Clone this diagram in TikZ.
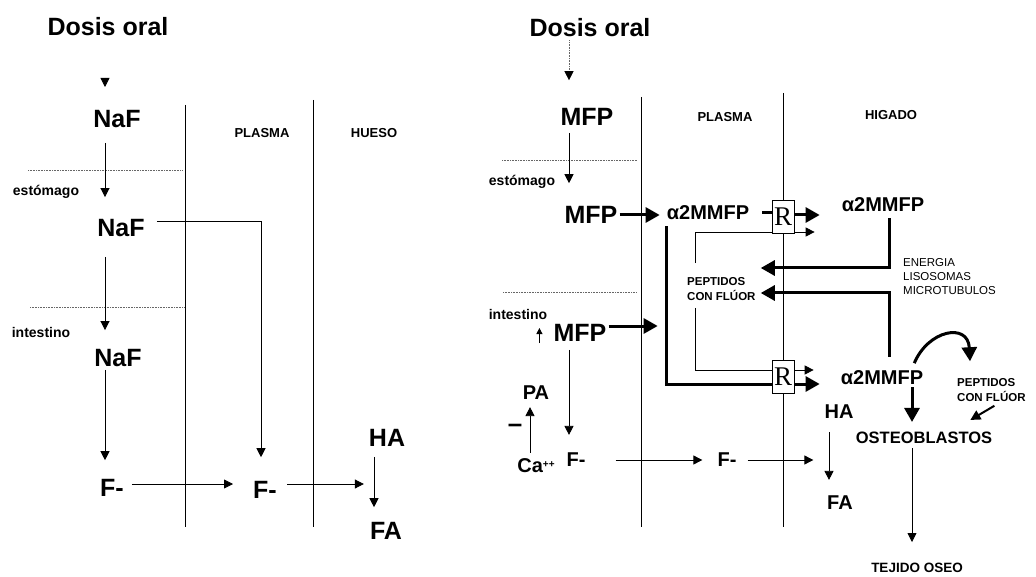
\documentclass[tikz,border=0pt]{standalone}
\usepackage{fontspec}
\setmainfont{Liberation Sans}
\newfontfamily\serifR{Liberation Serif}
\usetikzlibrary{arrows.meta, calc}

\begin{document}
\begin{tikzpicture}[x=1pt, y=-1pt,
            compound/.style={inner sep=2pt, font=\fontsize{25}{28}\selectfont\bfseries},
            medium/.style={inner sep=2pt, font=\fontsize{20}{22}\selectfont\bfseries},
            region/.style={inner sep=2pt, font=\fontsize{13}{15}\selectfont\bfseries},
            site/.style={inner sep=2pt, font=\fontsize{14}{16}\selectfont\bfseries},
            note/.style={inner sep=2pt, align=left, font=\fontsize{11.5}{15}\selectfont\bfseries},
            organ/.style={inner sep=2pt, align=left, font=\fontsize{11.5}{14}\selectfont},
            tissue/.style={inner sep=2pt, font=\fontsize{16.5}{18}\selectfont\bfseries},
            receptor/.style={draw, fill=white, inner sep=0pt, minimum width=22pt, minimum height=33pt, line width=0.8pt, font=\serifR\fontsize{27}{27}\selectfont},
            arrow/.style={-{Triangle[length=9pt, width=9pt]}, line width=0.8pt},
            heavy/.style={-{Triangle[length=14pt, width=15pt]}, line width=3pt},
            divider/.style={line width=0.8pt},
            border/.style={densely dotted, line width=0.6pt, black!60}
        ]
            \useasboundingbox (0,0) rectangle (1036,577);
            \draw[divider] (185,105) -- (185,527);
            \draw[divider] (313,100) -- (313,527);
            \draw[border] (28,170) -- (183,170);
            \draw[border] (30,307) -- (185,307);
            \draw[divider] (641,97) -- (641,527);
            \draw[divider] (783,93) -- (783,527);
            \draw[border] (502,160) -- (637,160);
            \draw[border] (503,292) -- (637,292);

            \coordinate (colL) at (105,0);
            \coordinate (colH) at (374,0);
            \coordinate (colR) at (569,0);
            \coordinate (colP) at (695,0);
            \coordinate (colO) at (912,0);
            \coordinate (colF) at (829,0);
            \coordinate (colC) at (530,0);
            \coordinate (tipL) at (105,87);

            \node[compound] (doseL) at (108,27) {Dosis oral};
            \node[compound] (naf1) at (117,119) {NaF};
            \node[region] (plasmaL) at (262,133) {PLASMA};
            \node[region] (huesoL) at (374,133) {HUESO};
            \node[site] (estL) at (46,192) {estómago};
            \node[compound] (naf2) at (121,228) {NaF};
            \node[site] (intL) at (41,332) {intestino};
            \node[compound] (naf3) at (118,358) {NaF};
            \node[compound] (fL1) at (112,488) {F-};
            \node[compound] (fL2) at (265,490) {F-};
            \node[compound] (haL) at (387,438) {HA};
            \node[compound] (faL) at (386,531) {FA};

            \node[compound] (doseR) at (590,28) {Dosis oral};
            \node[compound] (mfp1) at (587,117) {MFP};
            \node[region] (plasmaR) at (725,117) {PLASMA};
            \node[region] (higado) at (891,115) {HIGADO};
            \node[site] (estR) at (522,182) {estómago};
            \node[compound] (mfp2) at (591,215) {MFP};
            \node[medium] (a1) at (708,213) {α2MMFP};
            \node[receptor] (r1) at (783,217) {R};
            \node[medium] (a2) at (883,205) {α2MMFP};
            \node[note, anchor=west] (pep1) at (685,289) {PEPTIDOS\\CON FLÚOR};
            \node[organ, anchor=west] (organ) at (901,277) {ENERGIA\\LISOSOMAS\\MICROTUBULOS};
            \node[site] (intR) at (518,314) {intestino};
            \node[compound] (mfp3) at (580,333) {MFP};
            \node[receptor] (r2) at (783,377) {R};
            \node[medium] (a3) at (882,378) {α2MMFP};
            \node[note, anchor=west] (pep2) at (955,390) {PEPTIDOS\\CON FLÚOR};
            \node[medium] (paR) at (536,393) {PA};
            \node[inner sep=0pt, font=\fontsize{26}{26}\selectfont\bfseries] (minus) at (515,428) {\textendash};
            \node[medium, anchor=base] (caR) at (536,472) {Ca\raisebox{5pt}{\fontsize{10}{10}\selectfont ++}};
            \node[medium] (fR1) at (576,460) {F-};
            \node[medium] (fR2) at (727,460) {F-};
            \node[medium] (haR) at (839,412) {HA};
            \node[medium] (faR) at (840,503) {FA};
            \node[tissue] (osteo) at (924,438) {OSTEOBLASTOS};
            \node[tissue, font=\fontsize{13.5}{16}\selectfont\bfseries] (tejido) at (917,568) {TEJIDO OSEO};

            \draw[arrow] ([yshift=9pt]tipL) -- (tipL);
            \draw[arrow, shorten <=13pt, shorten >=20pt] (naf1.south -| colL) -- (naf2.north -| colL);
            \draw[arrow, shorten <=18pt, shorten >=17pt] (naf2.south -| colL) -- (naf3.north -| colL);
            \draw[arrow, shorten <=1pt, shorten >=17pt] (naf3.south -| colL) -- (fL1.north -| colL);
            \draw[arrow, shorten <=6pt, shorten >=18pt] ([yshift=4pt]fL1.east) -- ([yshift=4pt]fL1.east -| fL2.west);
            \draw[arrow, shorten <=8pt, shorten >=4pt] ([yshift=6pt]fL2.east) -- ([yshift=6pt]fL2.east -| faL.west);
            \draw[arrow, shorten <=10pt, shorten >=22pt] ([yshift=7pt]naf2.east) -| ([xshift=-4pt]fL2.north);
            \draw[arrow, shorten <=8pt, shorten >=13pt] (haL.south -| colH) -- (faL.north -| colH);

            \draw[border, -{Triangle[length=9pt, width=9pt, color=black]}, shorten <=1pt, shorten >=26pt] (doseR.south -| colR) -- (mfp1.north -| colR);
            \draw[arrow, shorten <=5pt, shorten >=21pt] (mfp1.south -| colR) -- (mfp2.north -| colR);
            \draw[heavy, shorten >=5pt] (mfp2.east) -- (mfp2.east -| a1.west);
            \draw[line width=3pt, shorten <=11pt] (a1.east) -- (a1.east -| r1.west);
            \draw[heavy, shorten >=20pt] ([yshift=2pt]r1.east) -- ([yshift=2pt]r1.east -| a2.west);
            \draw[divider, shorten <=12pt] (pep1.north -| colP) |- ([yshift=-15pt]r1.west);
            \draw[arrow, shorten >=25pt] ([yshift=-15pt]r1.east) -- ([yshift=-15pt]r1.east -| a2.west);
            \draw[heavy, shorten <=4pt, shorten >=3pt] ([xshift=6pt]a2.south) |- ([yshift=21pt]pep1.east);
            \draw[heavy, shorten <=12pt, shorten >=3pt] ([xshift=7pt]a3.north) |- ([yshift=-4pt]pep1.east);
            \draw[line width=3pt, shorten <=4pt] ([xshift=2pt]a1.south west) |- ([yshift=-7pt]r2.west);
            \draw[divider, shorten <=5pt] (pep1.south -| colP) |- ([yshift=7pt]r2.west);
            \draw[arrow, shorten >=25pt] ([yshift=7pt]r2.east) -- ([yshift=7pt]r2.east -| a3.west);
            \draw[heavy, shorten >=19pt] ([yshift=-7pt]r2.east) -- ([yshift=-7pt]r2.east -| a3.west);
            \draw[heavy, shorten >=8pt] (a3.south -| colO) -- (osteo.north -| colO);
            \draw[heavy, shorten <=6pt] (a3.north -| colO) .. controls (928,330) and (968,322) .. ([xshift=15pt, yshift=15pt]pep2.north west);
            \draw[-{Triangle[length=10pt, width=10pt]}, line width=2pt] ([xshift=3pt, yshift=-2pt]pep2.south) -- ([xshift=-24pt, yshift=10pt]osteo.north east);
            \draw[arrow, shorten <=2pt, shorten >=19pt] (osteo.south -| colO) -- (tejido.north -| colO);
            \draw[arrow, shorten <=11pt, shorten >=14pt] (haR.south -| colF) -- (faR.north -| colF);
            \draw[arrow, shorten <=9pt, shorten >=9pt] (fR2.east) -- (fR2.east -| haR.west);
            \draw[arrow, shorten <=28pt, shorten >=13pt] (fR1.east) -- (fR1.east -| fR2.west);
            \draw[heavy, shorten >=7pt] ([yshift=7pt]mfp3.east) -- ([yshift=7pt]mfp3.east -| a1.south west);
            \draw[-{Triangle[length=6pt, width=6pt]}, line width=0.8pt] ([xshift=-12pt, yshift=-10pt]mfp3.west) -- ([xshift=-12pt, yshift=5pt]mfp3.west);
            \draw[arrow, shorten <=6pt, shorten >=16pt] (mfp3.south -| colR) -- (fR1.north -| colR);
            \draw[arrow, shorten <=3pt, shorten >=5pt] (caR.north -| colC) -- (paR.south -| colC);
        \end{tikzpicture}
\end{document}
